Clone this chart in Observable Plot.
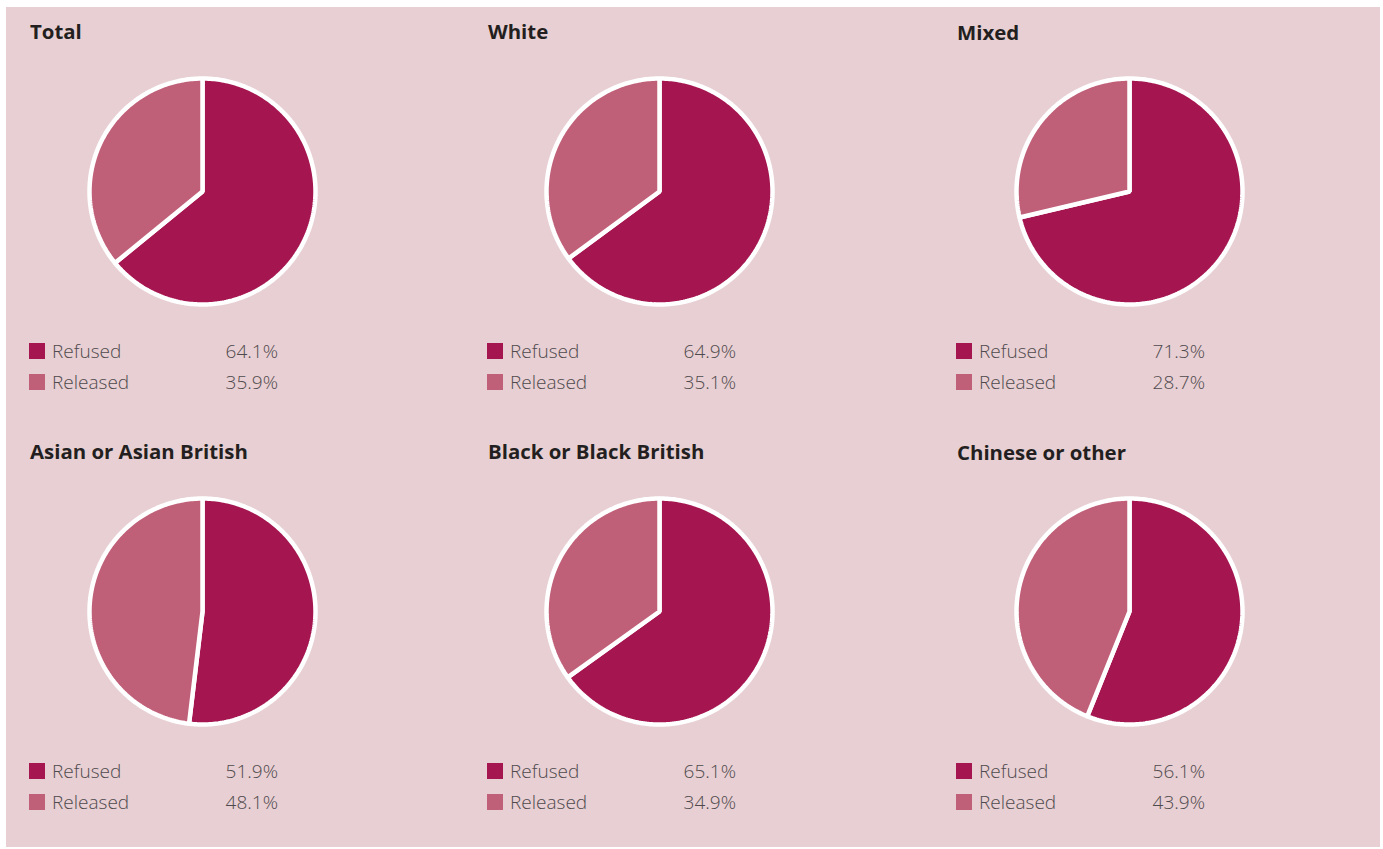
<!DOCTYPE html>
<html>
<head>
<meta charset="utf-8">
<script src="https://cdn.jsdelivr.net/npm/d3@7"></script>
<script src="https://cdn.jsdelivr.net/npm/@observablehq/plot@0.6"></script>
<style>
  html, body { margin: 0; padding: 0; background: #ffffff; }
  body { width: 1383px; height: 849px; position: relative; overflow: hidden; font-family: "Open Sans", "Noto Sans", sans-serif; }
  #panel { position: absolute; left: 6px; top: 7px; width: 1374px; height: 840px; background: #e8cfd3; }
  .title { position: absolute; font-size: 20.4px; font-weight: 700; color: #231f20; line-height: 24px; white-space: nowrap; }
  .pie { position: absolute; }
  .leg { position: absolute; font-size: 19px; font-weight: 300; color: #4f4a4d; line-height: 24px; white-space: nowrap; }
  .sw { position: absolute; width: 16px; height: 16px; }
  .pct { position: absolute; text-align: right; }
</style>
</head>
<body>
<div id="panel"></div>
<script>
// ---- Data ----
const groups = ["Total", "White", "Mixed", "Asian or Asian British", "Black or Black British", "Chinese or other"];
const refused = [64.1, 64.9, 71.3, 51.9, 65.1, 56.1];
const released = [35.9, 35.1, 28.7, 48.1, 34.9, 43.9];
const statuses = ["Refused", "Released"];
const statusColors = ["#a51550", "#c05f78"];

// ---- Layout ----
const colLeft = [30, 488, 957];     // title / legend left edge
const pieCenterX = [202, 659, 1129];
const rowOffset = [0, 420];
const pieSize = 240;
const pieRadius = 113;

function slicePolygon(a0, a1) {
  // angles in fractions of a full turn, clockwise from 12 o'clock (screen y grows downward)
  const ring = [[0, 0]];
  const n = Math.max(2, Math.ceil((a1 - a0) * 360));
  for (let i = 0; i <= n; i++) {
    const t = 2 * Math.PI * (a0 + (a1 - a0) * i / n);
    ring.push([Math.sin(t), -Math.cos(t)]);
  }
  ring.push([0, 0]);
  return ring;
}

const k = (pieSize / 2) / pieRadius;
const frame = {type: "Polygon", coordinates: [[[-k, -k], [k, -k], [k, k], [-k, k], [-k, -k]]]};

groups.forEach((g, i) => {
  const col = i % 3, row = Math.floor(i / 3);
  const dy = rowOffset[row];
  const values = [refused[i], released[i]];
  const total = d3.sum(values);
  let acc = 0;
  const features = statuses.map((s, j) => {
    const a0 = acc / total;
    acc += values[j];
    const a1 = acc / total;
    return {type: "Feature", properties: {status: s, value: values[j]}, geometry: {type: "Polygon", coordinates: [slicePolygon(a0, a1)]}};
  });

  // title
  const t = document.createElement("div");
  t.className = "title";
  t.style.left = colLeft[col] + "px";
  t.style.top = (19 + dy + (col === 2 ? 1 : 0)) + "px";
  t.textContent = g;
  document.body.appendChild(t);

  // pie
  const plot = Plot.plot({
    width: pieSize,
    height: pieSize,
    margin: 0,
    style: {background: "transparent", overflow: "visible"},
    projection: {type: "identity", domain: frame},
    color: {domain: statuses, range: statusColors},
    marks: [
      Plot.geo(features, {fill: d => d.properties.status, stroke: "white", strokeWidth: 4.5, strokeLinejoin: "miter"})
    ]
  });
  const wrap = document.createElement("div");
  wrap.className = "pie";
  wrap.style.left = (pieCenterX[col] - pieSize / 2) + "px";
  wrap.style.top = (191 + dy - pieSize / 2) + "px";
  wrap.appendChild(plot);
  document.body.appendChild(wrap);

  // legend
  statuses.forEach((s, j) => {
    const cy = 351 + dy + j * 31;
    const sw = document.createElement("div");
    sw.className = "sw";
    sw.style.left = (colLeft[col] - 1) + "px";
    sw.style.top = (cy - 8) + "px";
    sw.style.background = statusColors[j];
    document.body.appendChild(sw);
    const lab = document.createElement("div");
    lab.className = "leg";
    lab.style.left = (colLeft[col] + 22) + "px";
    lab.style.top = (cy - 12) + "px";
    lab.textContent = s;
    document.body.appendChild(lab);
    const p = document.createElement("div");
    p.className = "leg pct";
    p.style.left = (colLeft[col] + 148) + "px";
    p.style.width = "100px";
    p.style.top = (cy - 12) + "px";
    p.textContent = values[j].toFixed(1) + "%";
    document.body.appendChild(p);
  });
});
</script>
</body>
</html>
